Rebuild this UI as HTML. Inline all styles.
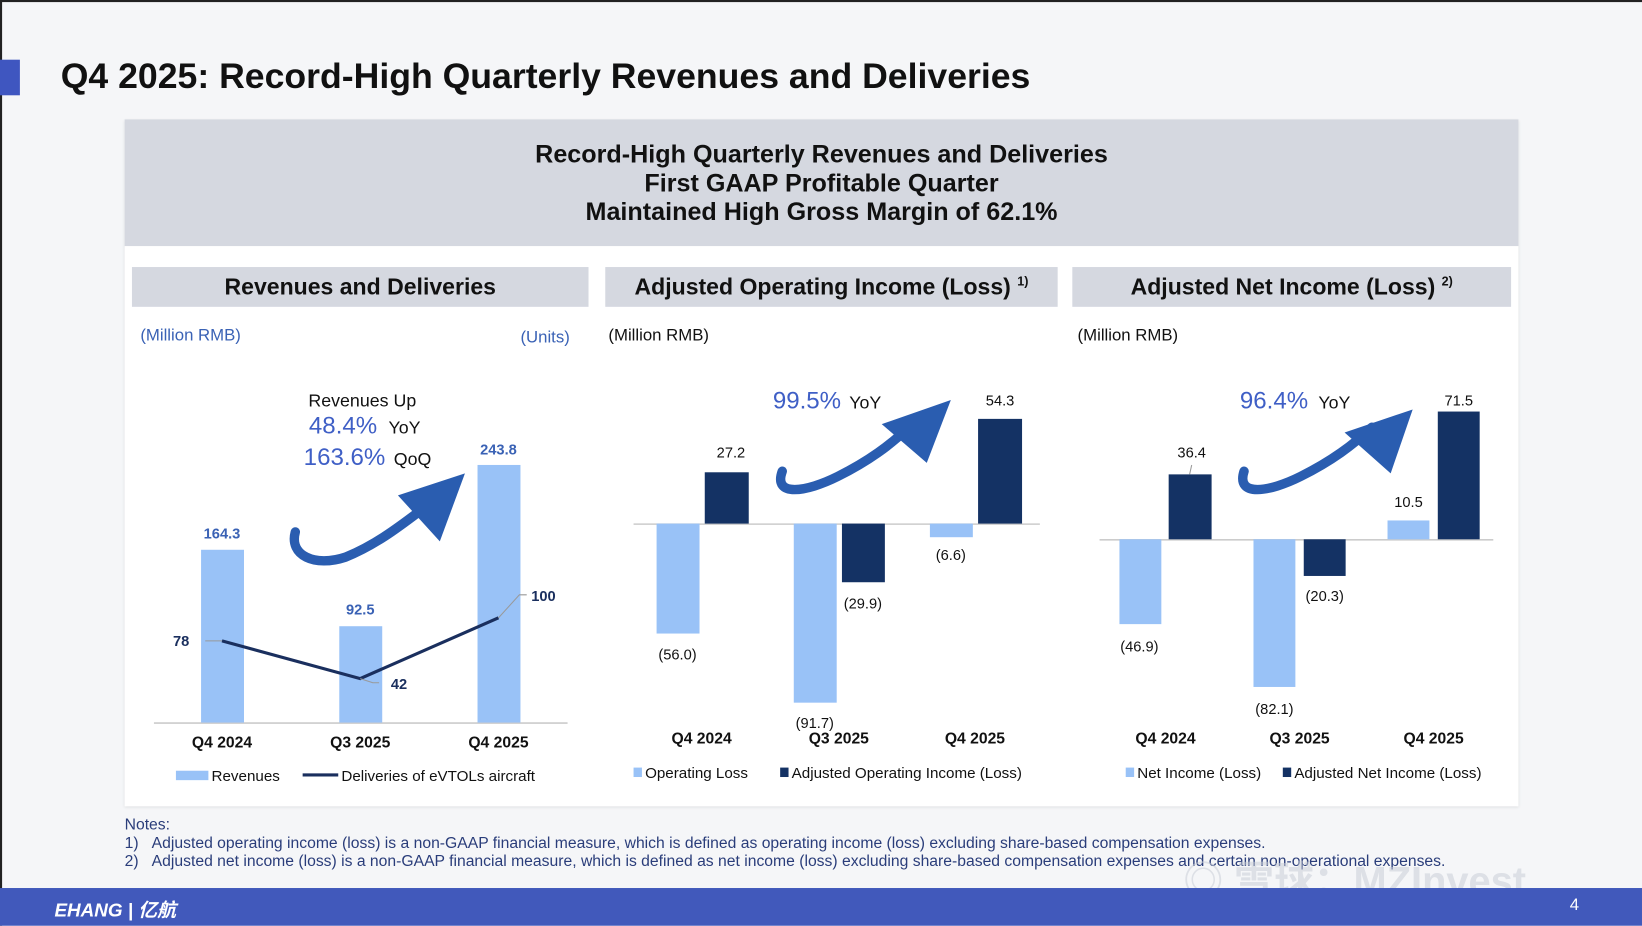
<!DOCTYPE html>
<html><head><meta charset="utf-8">
<style>
html,body{margin:0;padding:0;background:#f5f6f8;overflow:hidden;}
#w{position:absolute;left:0;top:0;width:1568px;height:884px;transform:scale(1.04719);transform-origin:0 0;background:#f5f6f8;font-family:"Liberation Sans","Noto Sans CJK SC",sans-serif;}
.a{position:absolute;white-space:nowrap;}
.hdr{position:absolute;background:#d5d8e0;text-align:center;font-weight:bold;font-size:22px;color:#111;line-height:38px;}
</style></head><body>
<div id="w">
<div class="a" style="left:0;top:0;width:1568px;height:2px;background:#222"></div>
<div class="a" style="left:0;top:0;width:2px;height:884px;background:#222"></div>
<div class="a" style="left:0;top:57px;width:19px;height:34px;background:#3f56c0"></div>
<div class="a" style="left:58px;top:54px;font-size:34px;font-weight:bold;color:#111">Q4 2025: Record-High Quarterly Revenues and Deliveries</div>

<div class="a" style="left:119px;top:114px;width:1331px;height:656px;background:#fff;box-shadow:0 1px 3px rgba(0,0,0,.1)"></div>
<div class="a" style="left:119px;top:114px;width:1331px;height:121px;background:#d5d8e0;text-align:center;font-weight:bold;font-size:24px;line-height:27.5px;color:#111;padding-top:20px;box-sizing:border-box">Record-High Quarterly Revenues and Deliveries<br>First GAAP Profitable Quarter<br>Maintained High Gross Margin of 62.1%</div>

<div class="hdr" style="left:126px;top:255px;width:436px;height:38px">Revenues and Deliveries</div>
<div class="hdr" style="left:578px;top:255px;width:432px;height:38px">Adjusted Operating Income (Loss) <sup style="font-size:12px;line-height:0">1)</sup></div>
<div class="hdr" style="left:1024px;top:255px;width:419px;height:38px">Adjusted Net Income (Loss) <sup style="font-size:12px;line-height:0">2)</sup></div>

<div class="a" style="left:134px;top:312px;font-size:16px;color:#3a62b5">(Million RMB)</div>
<div class="a" style="left:497px;top:314px;font-size:16px;color:#3a62b5">(Units)</div>
<div class="a" style="left:581px;top:312px;font-size:16px;color:#111">(Million RMB)</div>
<div class="a" style="left:1029px;top:312px;font-size:16px;color:#111">(Million RMB)</div>

<svg class="a" style="left:0;top:0" width="1568" height="884" font-family="Liberation Sans, sans-serif">
<line x1="147" y1="690.5" x2="542" y2="690.5" stroke="#ccc" stroke-width="1.5"/>
<rect x="192" y="525" width="41" height="165" fill="#99c2f7"/>
<rect x="324" y="598" width="41" height="92" fill="#99c2f7"/>
<rect x="456" y="444" width="41" height="246" fill="#99c2f7"/>
<g font-size="14" font-weight="bold" fill="#3a62b5" text-anchor="middle">
<text x="212" y="514">164.3</text><text x="344" y="587">92.5</text><text x="476" y="434">243.8</text></g>
<polyline points="212,612 344,648 476,590" fill="none" stroke="#1a2f5e" stroke-width="3"/>
<polyline points="476,590 496,568 503,568" fill="none" stroke="#999" stroke-width="1"/>
<polyline points="344,648 356,652 362,652" fill="none" stroke="#999" stroke-width="1"/>
<line x1="196" y1="612" x2="212" y2="612" stroke="#999"/>
<g font-size="14" font-weight="bold" fill="#1a2f5e" text-anchor="middle">
<text x="173" y="617">78</text><text x="381" y="658">42</text><text x="519" y="574">100</text></g>
<g font-size="15" font-weight="bold" fill="#111" text-anchor="middle">
<text x="212" y="714">Q4 2024</text><text x="344" y="714">Q3 2025</text><text x="476" y="714">Q4 2025</text></g>
<rect x="168" y="736" width="31" height="9" fill="#99c2f7"/>
<text x="202" y="746" font-size="14.5" fill="#111">Revenues</text>
<line x1="289" y1="740" x2="323" y2="740" stroke="#1a2f5e" stroke-width="3"/>
<text x="326" y="746" font-size="14.5" fill="#111">Deliveries of  eVTOLs aircraft</text>
<text x="346" y="388" font-size="17" fill="#111" text-anchor="middle">Revenues Up</text>
<text x="295" y="414" font-size="23" fill="#3f5fc6">48.4%</text><text x="371" y="414" font-size="17" fill="#111">YoY</text>
<text x="290" y="444" font-size="23" fill="#3f5fc6">163.6%</text><text x="376" y="444" font-size="17" fill="#111">QoQ</text>
<path d="M282,508 C276,530 300,542 330,532 C360,520 385,500 405,485" fill="none" stroke="#2a5db0" stroke-width="9" stroke-linecap="round"/>
<polygon points="444,452 380,473 420,517" fill="#2a5db0"/>

<line x1="605" y1="500.5" x2="993" y2="500.5" stroke="#ccc" stroke-width="1.5"/>
<rect x="627" y="500" width="41" height="105" fill="#99c2f7"/>
<rect x="673" y="451" width="42" height="49" fill="#143264"/>
<rect x="758" y="500" width="41" height="171" fill="#99c2f7"/>
<rect x="804" y="500" width="41" height="56" fill="#143264"/>
<rect x="888" y="500" width="41" height="13" fill="#99c2f7"/>
<rect x="934" y="400" width="42" height="100" fill="#143264"/>
<g font-size="14" fill="#111" text-anchor="middle">
<text x="647" y="630">(56.0)</text><text x="698" y="437">27.2</text><text x="778" y="695">(91.7)</text>
<text x="824" y="581">(29.9)</text><text x="908" y="535">(6.6)</text><text x="955" y="387">54.3</text></g>
<g font-size="15" font-weight="bold" fill="#111" text-anchor="middle">
<text x="670" y="710">Q4 2024</text><text x="801" y="710">Q3 2025</text><text x="931" y="710">Q4 2025</text></g>
<rect x="605" y="733" width="8" height="9" fill="#99c2f7"/>
<text x="616" y="743" font-size="14.5" fill="#111">Operating Loss</text>
<rect x="745" y="733" width="8" height="9" fill="#143264"/>
<text x="756" y="743" font-size="14.5" fill="#111">Adjusted Operating Income (Loss)</text>
<text x="738" y="390" font-size="23" fill="#3f5fc6">99.5%</text><text x="811" y="390" font-size="17" fill="#111">YoY</text>
<path d="M747,450 C738,475 770,470 800,455 C830,440 850,425 868,408" fill="none" stroke="#2a5db0" stroke-width="9" stroke-linecap="round"/>
<polygon points="908,382 842,405 885,442" fill="#2a5db0"/>

<line x1="1050" y1="515.5" x2="1426" y2="515.5" stroke="#ccc" stroke-width="1.5"/>
<rect x="1069" y="515" width="40" height="81" fill="#99c2f7"/>
<rect x="1116" y="453" width="41" height="62" fill="#143264"/>
<rect x="1197" y="515" width="40" height="141" fill="#99c2f7"/>
<rect x="1245" y="515" width="40" height="35" fill="#143264"/>
<rect x="1325" y="497" width="40" height="18" fill="#99c2f7"/>
<rect x="1373" y="393" width="40" height="122" fill="#143264"/>
<line x1="1138" y1="444" x2="1136" y2="453" stroke="#999"/>
<g font-size="14" fill="#111" text-anchor="middle">
<text x="1088" y="622">(46.9)</text><text x="1138" y="437">36.4</text><text x="1217" y="682">(82.1)</text>
<text x="1265" y="574">(20.3)</text><text x="1345" y="484">10.5</text><text x="1393" y="387">71.5</text></g>
<g font-size="15" font-weight="bold" fill="#111" text-anchor="middle">
<text x="1113" y="710">Q4 2024</text><text x="1241" y="710">Q3 2025</text><text x="1369" y="710">Q4 2025</text></g>
<rect x="1075" y="733" width="8" height="9" fill="#99c2f7"/>
<text x="1086" y="743" font-size="14.5" fill="#111">Net Income (Loss)</text>
<rect x="1225" y="733" width="8" height="9" fill="#143264"/>
<text x="1236" y="743" font-size="14.5" fill="#111">Adjusted Net Income (Loss)</text>
<text x="1184" y="390" font-size="23" fill="#3f5fc6">96.4%</text><text x="1259" y="390" font-size="17" fill="#111">YoY</text>
<path d="M1188,450 C1180,475 1212,470 1242,455 C1272,440 1292,425 1310,408" fill="none" stroke="#2a5db0" stroke-width="9" stroke-linecap="round"/>
<polygon points="1349,391 1284,413 1328,452" fill="#2a5db0"/>
</svg>

<div class="a" style="left:119px;top:779px;font-size:15px;color:#2a3d7a;line-height:17.5px">Notes:<br>1)&nbsp;&nbsp;&nbsp;Adjusted operating income (loss) is a non-GAAP financial measure, which is defined as operating income (loss) excluding share-based compensation expenses.<br>2)&nbsp;&nbsp;&nbsp;Adjusted net income (loss) is a non-GAAP financial measure, which is defined as net income (loss) excluding share-based compensation expenses and certain non-operational expenses.</div>
<div class="a" style="left:1130px;top:810px;font-size:38px;color:rgba(200,205,215,.55);font-weight:bold">◎ 雪球：MZInvest</div>

<div class="a" style="left:0;top:848px;width:1568px;height:36px;background:#4159bb"></div>
<div class="a" style="left:52px;top:855px;font-size:18px;font-weight:bold;color:#fff;font-style:italic">EHANG | 亿航</div>
<div class="a" style="left:1499px;top:856px;font-size:16px;color:#fff">4</div>
</div>
</body></html>
